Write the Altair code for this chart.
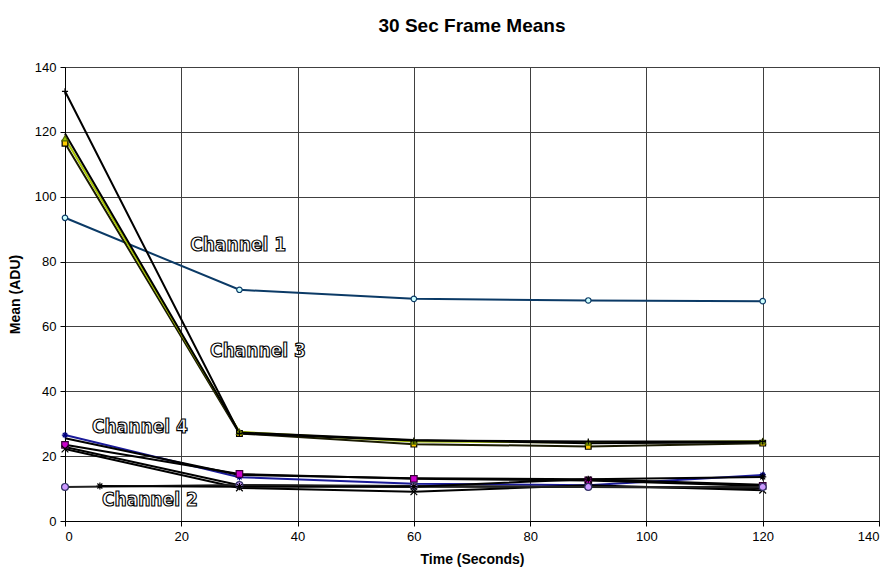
import altair as alt
import pandas as pd

# ---- data ----
times = [0, 30, 60, 90, 120]
ch1 = [93.5, 71.3, 68.5, 68.0, 67.8]
ch3a = [116.5, 27.0, 23.7, 23.0, 24.0]
ch3b = [118.0, 27.5, 24.5, 24.2, 24.6]
ch3c = [119.5, 27.3, 25.0, 24.0, 24.3]
ch3d = [132.5, 27.0, 24.8, 24.5, 24.5]
ch4a = [26.5, 13.5, 11.5, 11.0, 14.2]
ch4b = [23.5, 14.5, 13.0, 12.5, 10.8]
ch4c = [25.5, 14.2, 13.2, 12.9, 11.2]
ch4d = [22.8, 11.0, 10.6, 10.5, 10.2]
ch4e = [22.2, 10.2, 9.0, 11.0, 9.5]
ch2a = [10.5, 11.1, 10.8, 10.5, 10.5]
ch2b_times = [6, 30, 60, 90, 120]
ch2b = [10.8, 10.6, 10.6, 12.9, 13.6]

label_text = ["Channel 1", "Channel 3", "Channel 4", "Channel 2"]
label_x = [29.8, 33.2, 12.9, 14.6]
label_y = [85.0, 52.5, 29.0, 6.5]

series = {
    "ch1": (times, ch1), "ch3a": (times, ch3a), "ch3b": (times, ch3b),
    "ch3c": (times, ch3c), "ch3d": (times, ch3d), "ch4a": (times, ch4a),
    "ch4b": (times, ch4b), "ch4c": (times, ch4c), "ch4d": (times, ch4d),
    "ch4e": (times, ch4e), "ch2a": (times, ch2a), "ch2b": (ch2b_times, ch2b),
}
rows = []
for name, (ts, vs) in series.items():
    for t, v in zip(ts, vs):
        rows.append({"series": name, "time": t, "value": v})
df = pd.DataFrame(rows)
labels = pd.DataFrame({"text": label_text, "x": label_x, "y": label_y})

names = list(series.keys())
line_colors = ["#0b3a66", "#1a1a00", "#a8c400", "#000000", "#000000", "#1a1a99",
               "#000000", "#000000", "#000000", "#000000", "#222222", "#000000"]
stroke_w = [2, 2, 2, 1.2, 0.9, 1, 1.5, 2, 1.5, 1, 2.5, 1]

STAR = "M-1,0L1,0M0,-1L0,1M-0.7,-0.7L0.7,0.7M-0.7,0.7L0.7,-0.7"
XMK = "M-1,-1L1,1M-1,1L1,-1"
PLUS = "M-1,0L1,0M0,-1L0,1"
marked = ["ch1", "ch3a", "ch3b", "ch3d", "ch4a", "ch4b", "ch4e", "ch2a", "ch2b"]
shapes = ["circle", "square", "triangle-up", PLUS, STAR, "square", XMK, "circle", STAR]
fills = ["#ccffff", "#ffcc00", "#99cc00", "#000000", "#000080", "#cc00cc", "#000000",
         "#cc99ff", "#000000"]
pstroke = ["#0b3a66", "#000000", "#556600", "#000000", "#000080", "#330033", "#000000",
           "#333366", "#000000"]
sizes = [30, 50, 35, 45, 40, 50, 40, 45, 40]
pdf = df[df["series"].isin(marked)]

x_scale = alt.Scale(domain=[0, 140], nice=False)
y_scale = alt.Scale(domain=[0, 140], nice=False)
font = "Liberation Sans, Arial, sans-serif"

xax = alt.Axis(values=list(range(0, 141, 20)), title="Time (Seconds)", grid=True,
               gridColor="#404040", gridWidth=1, domainColor="#000000", tickColor="#000000",
               labelFont=font, labelFontSize=13, labelColor="#000", titleFont=font,
               titleFontSize=14, titleFontWeight="bold", titleColor="#000", titlePadding=9,
               labelPadding=4)
yax = alt.Axis(values=list(range(0, 141, 20)), title="Mean (ADU)", grid=True,
               gridColor="#404040", gridWidth=1, domainColor="#000000", tickColor="#000000",
               labelFont=font, labelFontSize=13, labelColor="#000", titleFont=font,
               titleFontSize=14, titleFontWeight="bold", titleColor="#000", titlePadding=12,
               labelPadding=4)

lines = alt.Chart(df).mark_line().encode(
    x=alt.X("time:Q", scale=x_scale, axis=xax),
    y=alt.Y("value:Q", scale=y_scale, axis=yax),
    color=alt.Color("series:N", scale=alt.Scale(domain=names, range=line_colors), legend=None),
    strokeWidth=alt.StrokeWidth("series:N", scale=alt.Scale(domain=names, range=stroke_w), legend=None),
    detail="series:N",
)

points = alt.Chart(pdf).mark_point(filled=False, opacity=1, strokeWidth=1.2).encode(
    x=alt.X("time:Q", scale=x_scale),
    y=alt.Y("value:Q", scale=y_scale),
    shape=alt.Shape("series:N", scale=alt.Scale(domain=marked, range=shapes), legend=None),
    fill=alt.Fill("series:N", scale=alt.Scale(domain=marked, range=fills), legend=None),
    stroke=alt.Stroke("series:N", scale=alt.Scale(domain=marked, range=pstroke), legend=None),
    size=alt.Size("series:N", scale=alt.Scale(domain=marked, range=sizes), legend=None),
)

text = alt.Chart(labels).mark_text(
    font="DejaVu Sans Condensed, Liberation Sans Narrow, sans-serif",
    fontSize=19, fontWeight="bold", fill="#ffffff", stroke="#000000", strokeWidth=1.1,
    align="center", baseline="middle",
).encode(
    x=alt.X("x:Q", scale=x_scale),
    y=alt.Y("y:Q", scale=y_scale),
    text="text:N",
)

chart = alt.layer(lines, points, text).resolve_scale(
    color="independent", fill="independent", stroke="independent",
    shape="independent", size="independent", strokeWidth="independent",
).properties(
    width=814, height=454,
    title=alt.TitleParams("30 Sec Frame Means", font=font, fontSize=19,
                          fontWeight="bold", color="#000", offset=25),
    autosize=alt.AutoSizeParams(type="none"),
    padding={"left": 57, "top": 59, "right": 7, "bottom": 50},
).configure_view(stroke="#000000", strokeWidth=1)

chart.save("out.html", embed_options={"renderer": "svg", "actions": False})
